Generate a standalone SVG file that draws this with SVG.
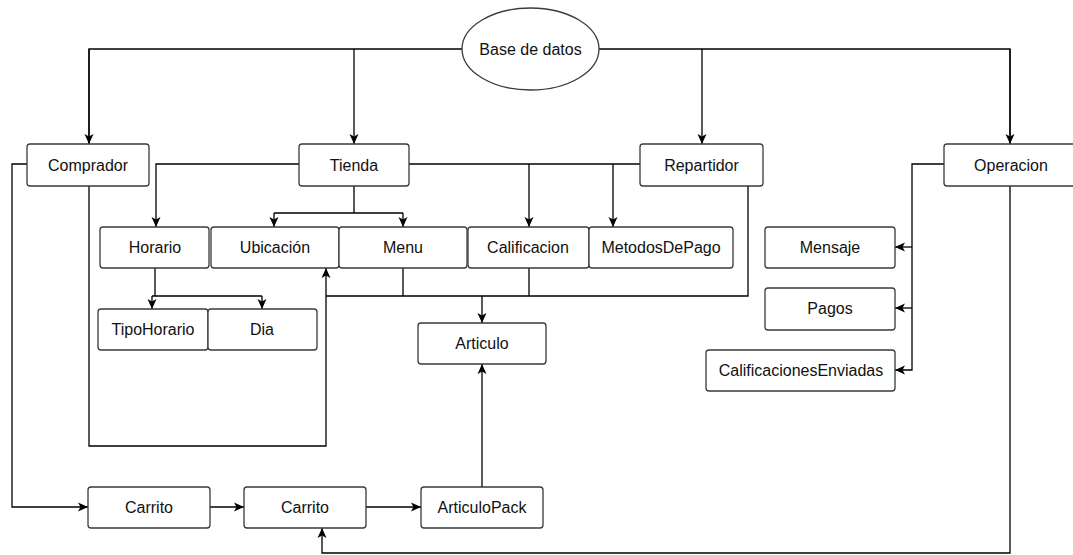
<svg xmlns="http://www.w3.org/2000/svg" width="1073" height="555" viewBox="0 0 1073 555">
  <style>
    .box { fill: #ffffff; stroke: #3a3a3a; stroke-width: 1.3; }
    .lbl { font-family: "Liberation Sans", Arial, sans-serif; font-size: 16px; fill: #111111; text-anchor: middle; dominant-baseline: central; }
    .edge { fill: none; stroke: #000000; stroke-width: 1.3; }
    .arr { marker-end: url(#head); }
  </style>
  <defs>
    <marker id="head" viewBox="0 0 10 10" refX="10" refY="5" markerWidth="10" markerHeight="10" markerUnits="userSpaceOnUse" orient="auto">
      <path d="M0,0.5 L10,5 L0,9.5 L2.5,5 Z" fill="#000000"/>
    </marker>
  </defs>
  <rect width="1073" height="555" fill="#ffffff"/>

  <g id="connectors">
    <!-- Base de datos fan-out -->
    <path class="edge" d="M462,49 H89 V143"/>
    <path class="edge arr" d="M89,49 V144"/>
    <path class="edge arr" d="M354,49 V144"/>
    <path class="edge" d="M599,49 H1010 V143"/>
    <path class="edge arr" d="M702,49 V144"/>
    <path class="edge arr" d="M1010,49 V144"/>
    <!-- Tienda children -->
    <path class="edge" d="M354,186 V213 M274,213 H403"/>
    <path class="edge arr" d="M274,213 V227"/>
    <path class="edge arr" d="M403,213 V227"/>
    <path class="edge arr" d="M299,164 H156 V227"/>
    <path class="edge" d="M409,164 H640"/>
    <path class="edge arr" d="M529,164 V227"/>
    <path class="edge arr" d="M613,164 V227"/>
    <!-- Horario children -->
    <path class="edge" d="M155,268 V296 M152,296 H262"/>
    <path class="edge arr" d="M152,296 V309"/>
    <path class="edge arr" d="M262,296 V309"/>
    <!-- Into Articulo -->
    <path class="edge" d="M403,268 V296 M529,268 V296"/>
    <path class="edge" d="M748,186 V296 H326"/>
    <path class="edge arr" d="M482,296 V323"/>
    <!-- Comprador to Ubicación -->
    <path class="edge arr" d="M89,186 V446 H326 V268"/>
    <!-- Comprador to Carrito -->
    <path class="edge arr" d="M27,164 H12 V507 H88"/>
    <!-- Carrito chain -->
    <path class="edge arr" d="M210,507 H244"/>
    <path class="edge arr" d="M366,507 H421"/>
    <path class="edge arr" d="M482,487 V364"/>
    <!-- Operacion -->
    <path class="edge arr" d="M944,164 H912 V370 H895"/>
    <path class="edge arr" d="M912,247 H895"/>
    <path class="edge arr" d="M912,308 H895"/>
    <path class="edge arr" d="M1010,186 V553 H322 V528"/>
  </g>

  <g id="base-de-datos">
    <ellipse class="box" cx="530.5" cy="49" rx="68.5" ry="41"/>
    <text class="lbl" x="530.5" y="49">Base de datos</text>
  </g>
  <g id="comprador">
    <rect class="box" x="27" y="144" width="122" height="42" rx="3"/>
    <text class="lbl" x="88" y="165">Comprador</text>
  </g>
  <g id="tienda">
    <rect class="box" x="299" y="144" width="110" height="42" rx="3"/>
    <text class="lbl" x="354" y="165">Tienda</text>
  </g>
  <g id="repartidor">
    <rect class="box" x="640" y="144" width="123" height="42" rx="3"/>
    <text class="lbl" x="701.5" y="165">Repartidor</text>
  </g>
  <g id="operacion">
    <rect class="box" x="944" y="144" width="132" height="42" rx="3"/>
    <text class="lbl" x="1011" y="165">Operacion</text>
  </g>
  <g id="horario">
    <rect class="box" x="100" y="227" width="109" height="41" rx="3"/>
    <text class="lbl" x="155" y="247">Horario</text>
  </g>
  <g id="ubicacion">
    <rect class="box" x="211" y="227" width="128" height="41" rx="3"/>
    <text class="lbl" x="275" y="247">Ubicación</text>
  </g>
  <g id="menu">
    <rect class="box" x="339" y="227" width="128" height="41" rx="3"/>
    <text class="lbl" x="403" y="247">Menu</text>
  </g>
  <g id="calificacion">
    <rect class="box" x="468" y="227" width="121" height="41" rx="3"/>
    <text class="lbl" x="528" y="247">Calificacion</text>
  </g>
  <g id="metodos-de-pago">
    <rect class="box" x="589" y="227" width="144" height="41" rx="3"/>
    <text class="lbl" x="661" y="247">MetodosDePago</text>
  </g>
  <g id="tipo-horario">
    <rect class="box" x="98" y="309" width="110" height="41" rx="3"/>
    <text class="lbl" x="153" y="329">TipoHorario</text>
  </g>
  <g id="dia">
    <rect class="box" x="208" y="309" width="109" height="41" rx="3"/>
    <text class="lbl" x="262" y="329">Dia</text>
  </g>
  <g id="articulo">
    <rect class="box" x="418" y="323" width="128" height="41" rx="3"/>
    <text class="lbl" x="482" y="343">Articulo</text>
  </g>
  <g id="mensaje">
    <rect class="box" x="765" y="227" width="130" height="41" rx="3"/>
    <text class="lbl" x="830" y="247">Mensaje</text>
  </g>
  <g id="pagos">
    <rect class="box" x="765" y="288" width="130" height="42" rx="3"/>
    <text class="lbl" x="830" y="308">Pagos</text>
  </g>
  <g id="calificaciones-enviadas">
    <rect class="box" x="706" y="350" width="189" height="41" rx="3"/>
    <text class="lbl" x="801" y="370">CalificacionesEnviadas</text>
  </g>
  <g id="carrito-1">
    <rect class="box" x="88" y="487" width="122" height="41" rx="3"/>
    <text class="lbl" x="149" y="507">Carrito</text>
  </g>
  <g id="carrito-2">
    <rect class="box" x="244" y="487" width="122" height="41" rx="3"/>
    <text class="lbl" x="305" y="507">Carrito</text>
  </g>
  <g id="articulo-pack">
    <rect class="box" x="421" y="487" width="122" height="41" rx="3"/>
    <text class="lbl" x="482" y="507">ArticuloPack</text>
  </g>
</svg>
